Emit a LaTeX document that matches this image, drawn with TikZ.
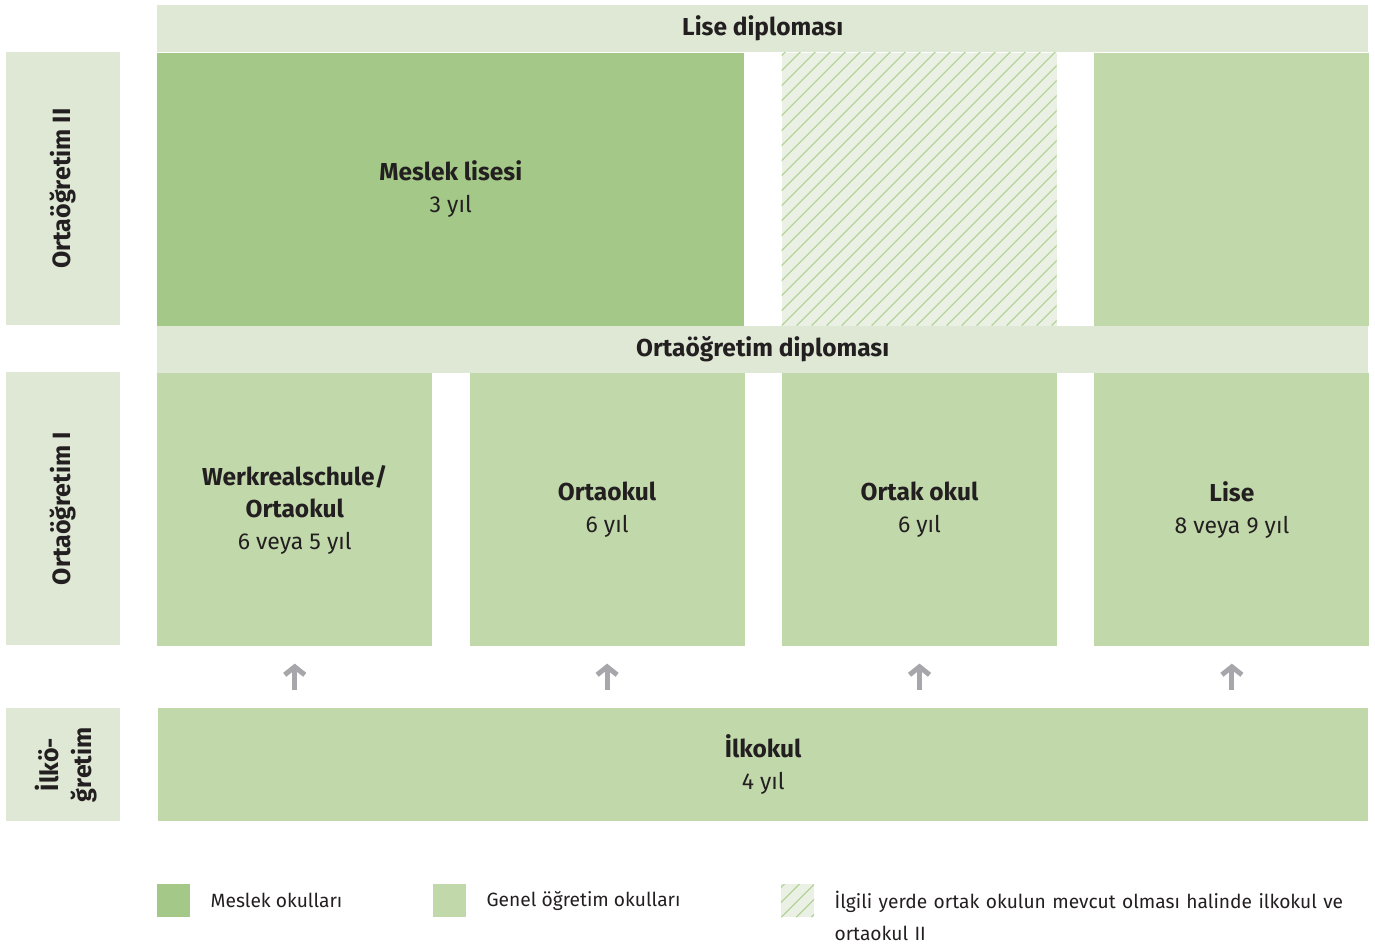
\documentclass[tikz,border=0pt]{standalone}
\usepackage{fontspec}
\setmainfont{Fira Sans}
\usetikzlibrary{positioning,arrows.meta}

\definecolor{bandgreen}{HTML}{DEE8D5}
\definecolor{vocgreen}{HTML}{A3C887}
\definecolor{gengreen}{HTML}{C1D8AB}
\definecolor{hatchfill}{HTML}{EAF0E3}
\definecolor{hatchline}{HTML}{B5D49B}
\definecolor{arrowgray}{HTML}{A7A7AB}
\definecolor{textdark}{HTML}{231F20}

\newcommand{\schoolname}[1]{{\fontsize{24.5}{32}\selectfont\bfseries #1}}

\tikzset{
  band/.style={fill=bandgreen, minimum width=1211pt, minimum height=47pt, inner sep=0pt,
    anchor=north west, text=textdark, font=\fontsize{24.5}{32}\selectfont\bfseries},
  school/.style={fill=gengreen, minimum width=275pt, minimum height=273pt, inner sep=0pt,
    anchor=north west, align=center, text=textdark, font=\fontsize{23}{32}\selectfont},
  hatched/.style={fill=hatchfill, path picture={
      \foreach \k in {-25,...,25}
        \draw[hatchline, line width=1.3pt]
          ([xshift=\k*15pt]path picture bounding box.south west) -- ++(400pt,400pt);}},
  sidebox/.style={fill=bandgreen, minimum width=114pt, inner sep=0pt, anchor=north west},
  sidetext/.style={rotate=90, align=center, text=textdark, font=\fontsize{25}{33}\selectfont\bfseries},
  uparrow/.style={arrowgray, line width=5pt, -{Straight Barb[length=8pt,width=20pt]}},
  legsq/.style={minimum size=33pt, inner sep=0pt, anchor=north west},
  legtext/.style={inner sep=0pt, anchor=west, text=textdark, font=\fontsize{19.2}{32}\selectfont}
}

\begin{document}
\begin{tikzpicture}[x=1pt,y=-1pt]
  \useasboundingbox (0,0) rectangle (1375,944);

  % Ortaöğretim II
  \node[band] (lisedip) at (157,5) {Lise diploması};
  \node[school, fill=vocgreen, minimum width=587pt] (meslek) at (lisedip.south west)
    {\schoolname{Meslek lisesi}\\3 yıl};
  \node[school, hatched, right=37pt of meslek] (ortakust) {};
  \node[school, right=37pt of ortakust] (liseust) {};

  % Ortaöğretim I
  \node[band] (ortadip) at (meslek.south west) {Ortaöğretim diploması};
  \node[school] (werk) at (ortadip.south west) {\schoolname{Werkrealschule/}\\\schoolname{Ortaokul}\\6 veya 5 yıl};
  \node[school, right=37pt of werk] (ortaokul) {\schoolname{Ortaokul}\\6 yıl};
  \node[school, right=37pt of ortaokul] (ortakokul) {\schoolname{Ortak okul}\\6 yıl};
  \node[school, right=37pt of ortakokul] (lise) {\schoolname{Lise}\\8 veya 9 yıl};

  % İlköğretim
  \node[school, minimum width=1210pt, minimum height=113pt] (ilkokul) at (158,708)
    {\schoolname{İlkokul}\\4 yıl};

  % arrows
  \foreach \s in {werk,ortaokul,ortakokul,lise}
    \draw[uparrow] ([yshift=18pt]ilkokul.north -| \s.south) -- ([yshift=-17pt]\s.south);

  % side labels
  \node[sidebox, minimum height=273pt] (sek2) at (6,52) {};
  \node[sidetext] (sek2txt) at (sek2.center) {Ortaöğretim II};
  \node[sidebox, minimum height=273pt] (sek1) at (6,372) {};
  \node[sidetext] (sek1txt) at (sek1.center) {Ortaöğretim I};
  \node[sidebox, minimum height=113pt] (prim) at (6,708) {};
  \node[sidetext] (primtxt) at ([xshift=3pt]prim.center) {İlkö-\\ğretim};

  % legend
  \node[legsq, fill=vocgreen] (leg1) at (157,884) {};
  \node[legtext, right=20pt of leg1] (leg1txt) {Meslek okulları};
  \node[legsq, hatched] (leg3) at (781,884) {};
  \node[legsq, fill=gengreen] (leg2) at (433,884) {};
  \node[legtext, right=20pt of leg2] (leg2txt) {Genel öğretim okulları};
  \node[legtext, anchor=north west, align=left, text width=540pt] (leg3txt)
    at ([xshift=20pt,yshift=-7pt]leg3.north east)
    {İlgili yerde ortak okulun mevcut olması halinde ilkokul ve\\ortaokul II};
\end{tikzpicture}
\end{document}
